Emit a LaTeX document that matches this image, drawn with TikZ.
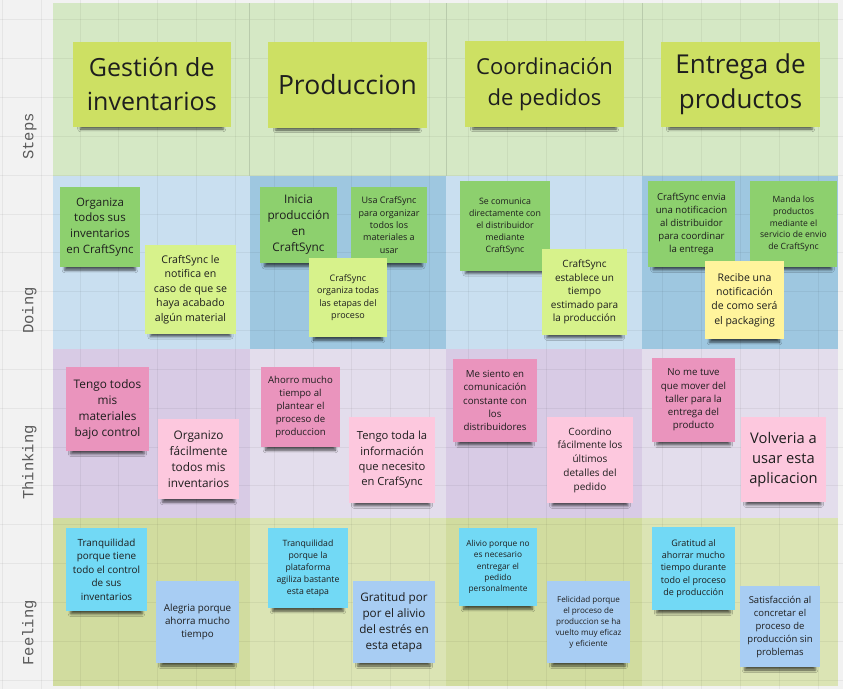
\documentclass[tikz,border=0pt]{standalone}
\usepackage{fontspec}
\setmainfont{Open Sans}
\newfontfamily\labelfont{Liberation Mono}
\usetikzlibrary{shadows,shadows.blur}
\newcommand\fz[2]{\fontsize{#1pt}{#2pt}\selectfont}
\definecolor{pagebg}{HTML}{F2F2F2}
\definecolor{stepsbg}{HTML}{D5E8C5}
\definecolor{stepsline}{HTML}{B9CBAC}
\definecolor{doingA}{HTML}{C9DFF0}
\definecolor{doingB}{HTML}{9EC7E0}
\definecolor{thinkA}{HTML}{D8CBE5}
\definecolor{thinkB}{HTML}{E3DDEC}
\definecolor{feelA}{HTML}{D1DC9F}
\definecolor{feelB}{HTML}{DBE4B4}
\definecolor{stepnote}{HTML}{CDE063}
\definecolor{dkgreen}{HTML}{8DD06E}
\definecolor{ltgreen}{HTML}{D7F28B}
\definecolor{ltyellow}{HTML}{FFF49C}
\definecolor{dkpink}{HTML}{EA94BD}
\definecolor{ltpink}{HTML}{FDC8DE}
\definecolor{cyannote}{HTML}{72D9F5}
\definecolor{ltblue}{HTML}{A8CDF3}
\definecolor{txt}{HTML}{1E1E1E}
\definecolor{labeltxt}{HTML}{5A5A5A}
\begin{document}
\begin{tikzpicture}[x=1pt,y=-1pt,
  sticky/.style={inner sep=0pt, align=center, text=txt,
    blur shadow={shadow xshift=0pt, shadow yshift=-9pt, shadow scale=0.88,
      shadow opacity=65, shadow blur radius=3pt}},
  bigsticky/.style={inner sep=0pt, align=center, text=txt,
    blur shadow={shadow xshift=0pt, shadow yshift=-7pt, shadow scale=0.9,
      shadow opacity=65, shadow blur radius=3pt}},
  rowlabel/.style={rotate=90, anchor=base east, inner sep=0pt, text=labeltxt,
    font=\labelfont\fz{15.5}{18}},
  gridline/.style={black, opacity=0.05, line width=1pt}]
\useasboundingbox (0,0) rectangle (843,689);
\fill[pagebg] (0,0) rectangle (843,689);
% board fills
\fill[stepsbg] (53,3) rectangle (838,176);
\fill[doingA] (53,176) rectangle (249.5,348.5);
\fill[doingB] (249.5,176) rectangle (446,348.5);
\fill[doingA] (446,176) rectangle (642,348.5);
\fill[doingB] (642,176) rectangle (838,348.5);
\fill[thinkA] (53,348.5) rectangle (249.5,517.5);
\fill[thinkB] (249.5,348.5) rectangle (446,517.5);
\fill[thinkA] (446,348.5) rectangle (642,517.5);
\fill[thinkB] (642,348.5) rectangle (838,517.5);
\fill[feelA] (53,517.5) rectangle (249.5,686);
\fill[feelB] (249.5,517.5) rectangle (446,686);
\fill[feelA] (446,517.5) rectangle (642,686);
\fill[feelB] (642,517.5) rectangle (838,686);
% grid
\foreach \k in {0,...,21} \draw[gridline] ({2.3+38.85*\k},0) -- ({2.3+38.85*\k},689);
\foreach \k in {0,...,17} \draw[gridline] (0,{19.75+38.85*\k}) -- (843,{19.75+38.85*\k});
% steps dividers
\foreach \xx in {249.5,446,642} \draw[stepsline, line width=0.8pt] (\xx,3) -- (\xx,176);
% row labels
\node[rowlabel] (lsteps) at (33.4,113) {Steps};
\node[rowlabel] (ldoing) at (33.4,287) {Doing};
\node[rowlabel] (lthink) at (33.4,425) {Thinking};
\node[rowlabel] (lfeel) at (33.4,600) {Feeling};
% steps
\node[bigsticky, fill=stepnote, minimum width=158.5pt, minimum height=85pt, font=\fz{25}{34}] (s1) at (151.75,84.5) {Gestión de\\inventarios};
\node[bigsticky, fill=stepnote, minimum width=159pt, minimum height=86pt, font=\fz{26.5}{34}] (s2) at (347.5,85) {Produccion};
\node[bigsticky, fill=stepnote, minimum width=159pt, minimum height=86pt, font=\fz{22}{31.5}] (s3) at (544.5,84) {Coordinación\\de pedidos};
\node[bigsticky, fill=stepnote, minimum width=159pt, minimum height=85pt, font=\fz{26}{35}] (s4) at (740.5,84.5) {Entrega de\\productos};
% doing
\node[sticky, fill=dkgreen, minimum width=80pt, minimum height=80pt, font=\fz{11.5}{15.7}] (d1) at (100,227) {Organiza\\todos sus\\inventarios\\en CraftSync};
\node[sticky, fill=ltgreen, minimum width=91pt, minimum height=89pt, font=\fz{10.6}{14.4}] (d2) at (190.5,289.5) {CraftSync le\\notifica en\\caso de que se\\haya acabado\\algún material};
\node[sticky, fill=dkgreen, minimum width=77pt, minimum height=76pt, font=\fz{11.8}{16}] (d3) at (298.5,225) {Inicia\\producción\\en\\CraftSync};
\node[sticky, fill=dkgreen, minimum width=76pt, minimum height=76pt, font=\fz{9}{12.3}] (d4) at (389,225) {Usa CrafSync\\para organizar\\todos los\\materiales a\\usar};
\node[sticky, fill=ltgreen, minimum width=78pt, minimum height=79pt, font=\fz{9}{12.3}] (d5) at (348,297.5) {CrafSync\\organiza todas\\las etapas del\\proceso};
\node[sticky, fill=dkgreen, minimum width=90pt, minimum height=90pt, font=\fz{8.8}{12}] (d6) at (505,226) {Se comunica\\directamente con\\el distribuidor\\mediante\\CraftSync};
\node[sticky, fill=ltgreen, minimum width=85pt, minimum height=86pt, font=\fz{10}{13.6}] (d7) at (584.5,292) {CraftSync\\establece un\\tiempo\\estimado para\\la producción};
\node[sticky, fill=dkgreen, minimum width=87pt, minimum height=86pt, font=\fz{9.6}{13}] (d8) at (691.5,224) {CraftSync envia\\una notificacion\\al distribuidor\\para coordinar\\la entrega};
\node[sticky, fill=dkgreen, minimum width=87pt, minimum height=86pt, font=\fz{8.6}{11.7}] (d9) at (793.5,224) {Manda los\\productos\\mediante el\\servicio de envio\\de CraftSync};
\node[sticky, fill=ltyellow, minimum width=79pt, minimum height=78pt, font=\fz{10.5}{14.3}] (d10) at (744.5,300) {Recibe una\\notificación\\de como será\\el packaging};
% thinking
\node[sticky, fill=dkpink, minimum width=83pt, minimum height=84pt, font=\fz{11.8}{16}] (t1) at (107.5,409) {Tengo todos\\mis\\materiales\\bajo control};
\node[sticky, fill=ltpink, minimum width=81pt, minimum height=80pt, font=\fz{11.8}{16}] (t2) at (198.5,459) {Organizo\\fácilmente\\todos mis\\inventarios};
\node[sticky, fill=dkpink, minimum width=79pt, minimum height=80pt, font=\fz{9.6}{13}] (t3) at (300.5,407) {Ahorro mucho\\tiempo al\\plantear el\\proceso de\\produccion};
\node[sticky, fill=ltpink, minimum width=86pt, minimum height=86pt, font=\fz{11.2}{15.3}] (t4) at (392,460) {Tengo toda la\\información\\que necesito\\en CrafSync};
\node[sticky, fill=dkpink, minimum width=84pt, minimum height=83pt, font=\fz{9.7}{13.2}] (t5) at (495,400.5) {Me siento en\\comunicación\\constante con\\los\\distribuidores};
\node[sticky, fill=ltpink, minimum width=86pt, minimum height=86pt, font=\fz{10}{13.7}] (t6) at (590,460) {Coordino\\fácilmente los\\últimos\\detalles del\\pedido};
\node[sticky, fill=dkpink, minimum width=83pt, minimum height=84pt, font=\fz{9.7}{13.2}] (t7) at (693.5,400) {No me tuve\\que mover del\\taller para la\\entrega del\\producto};
\node[sticky, fill=ltpink, minimum width=85pt, minimum height=85pt, font=\fz{14.7}{20}] (t8) at (783.5,459.5) {Volveria a\\usar esta\\aplicacion};
% feeling
\node[sticky, fill=cyannote, minimum width=81pt, minimum height=83pt, font=\fz{9.9}{13.5}] (f1) at (106.5,569.5) {Tranquilidad\\porque tiene\\todo el control\\de sus\\inventarios};
\node[sticky, fill=ltblue, minimum width=83pt, minimum height=82pt, font=\fz{9.8}{13.3}] (f2) at (197.5,622) {Alegria porque\\ahorra mucho\\tiempo};
\node[sticky, fill=cyannote, minimum width=80pt, minimum height=80pt, font=\fz{8.7}{11.9}] (f3) at (308,568) {Tranquilidad\\porque la\\plataforma\\agiliza bastante\\esta etapa};
\node[sticky, fill=ltblue, minimum width=82pt, minimum height=82pt, font=\fz{11.7}{16}] (f4) at (394,622) {Gratitud por\\por el alivio\\del estrés en\\esta etapa};
\node[sticky, fill=cyannote, minimum width=78pt, minimum height=78pt, font=\fz{8.3}{11.3}] (f5) at (498,567) {Alivio porque no\\es necesario\\entregar el\\pedido\\personalmente};
\node[sticky, fill=ltblue, minimum width=83pt, minimum height=82pt, font=\fz{8.1}{11}] (f6) at (588.5,622) {Felicidad porque\\el proceso de\\produccion se ha\\vuelto muy eficaz\\y eficiente};
\node[sticky, fill=cyannote, minimum width=83pt, minimum height=83pt, font=\fz{9}{12.3}] (f7) at (693.5,568.5) {Gratitud al\\ahorrar mucho\\tiempo durante\\todo el proceso\\de producción};
\node[sticky, fill=ltblue, minimum width=80pt, minimum height=81pt, font=\fz{9.5}{13}] (f8) at (780,626.5) {Satisfacción al\\concretar el\\proceso de\\producción sin\\problemas};
\end{tikzpicture}
\end{document}
